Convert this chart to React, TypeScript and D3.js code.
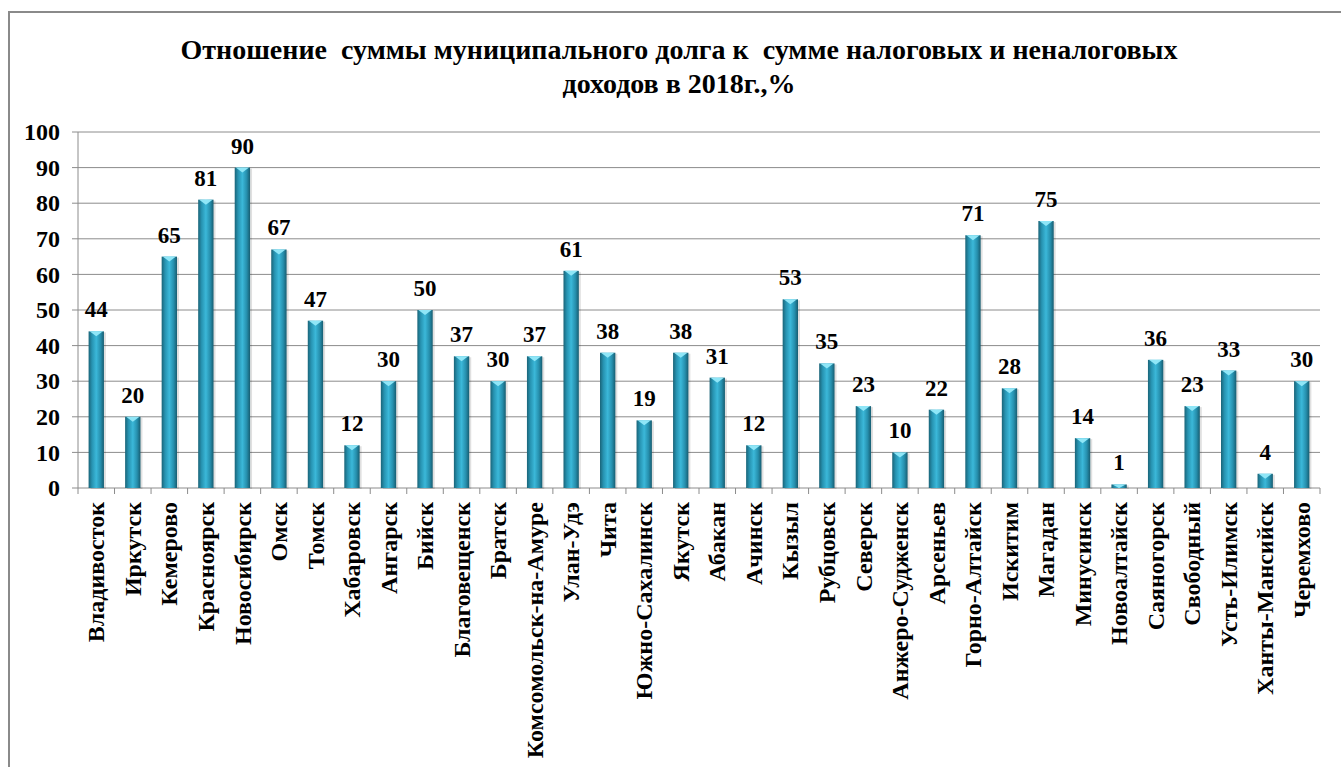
import * as d3 from "d3";

const cities = [
  "Владивосток", "Иркутск", "Кемерово", "Красноярск", "Новосибирск", "Омск", "Томск",
  "Хабаровск", "Ангарск", "Бийск", "Благовещенск", "Братск", "Комсомольск-на-Амуре",
  "Улан-Удэ", "Чита", "Южно-Сахалинск", "Якутск", "Абакан", "Ачинск", "Кызыл",
  "Рубцовск", "Северск", "Анжеро-Судженск", "Арсеньев", "Горно-Алтайск", "Искитим",
  "Магадан", "Минусинск", "Новоалтайск", "Саяногорск", "Свободный", "Усть-Илимск",
  "Ханты-Мансийск", "Черемхово",
];

const debtShare = [
  44, 20, 65, 81, 90, 67, 47, 12, 30, 50, 37, 30, 37, 61, 38, 19, 38, 31, 12, 53,
  35, 23, 10, 22, 71, 28, 75, 14, 1, 36, 23, 33, 4, 30,
];

const yTicks = [0, 10, 20, 30, 40, 50, 60, 70, 80, 90, 100];

const titleLines = [
  "Отношение  суммы муниципального долга к  сумме налоговых и неналоговых",
  "доходов в 2018г.,%",
];

const font = "'Liberation Serif', 'Times New Roman', serif";

export default function App() {
  const left = 78;
  const right = 1320;
  const top = 132;
  const bottom = 488;

  const x = d3.scaleBand<string>().domain(cities).range([left, right]);
  const y = d3.scaleLinear().domain([0, 100]).range([bottom, top]);
  const barW = x.bandwidth() * 0.42;
  const txt = { fontFamily: font, fontWeight: 700 as const };

  return (
    <svg
      width={1341}
      height={767}
      style={{ position: "absolute", left: 0, top: 0, background: "#fff" }}
    >
      <defs>
        <linearGradient id="cyl" x1="0" x2="1" y1="0" y2="0">
          <stop offset="0%" stopColor="#1a6478" />
          <stop offset="22%" stopColor="#2793b1" />
          <stop offset="50%" stopColor="#3bb8d9" />
          <stop offset="78%" stopColor="#268fad" />
          <stop offset="100%" stopColor="#175d71" />
        </linearGradient>
      </defs>

      <rect x={9} y={12} width={1345} height={765} fill="none" stroke="#8a8a8a" strokeWidth={2} />

      {titleLines.map((t, i) => (
        <text
          key={i}
          x={679}
          y={59 + i * 34}
          textAnchor="middle"
          fontSize={28}
          style={{ ...txt, whiteSpace: "pre" }}
        >
          {t}
        </text>
      ))}

      {yTicks.map((t) => (
        <g key={t}>
          {t > 0 && (
            <line x1={left} x2={right} y1={y(t)} y2={y(t)} stroke="#8c8c8c" strokeWidth={1} />
          )}
          <line x1={left - 6} x2={left} y1={y(t)} y2={y(t)} stroke="#8c8c8c" strokeWidth={1} />
          <text x={60} y={y(t)} dy="0.34em" textAnchor="end" fontSize={24} style={txt}>
            {t}
          </text>
        </g>
      ))}

      <line x1={left} x2={left} y1={top} y2={bottom} stroke="#8c8c8c" strokeWidth={1} />
      <line x1={left} x2={right} y1={bottom} y2={bottom} stroke="#8c8c8c" strokeWidth={1} />
      {cities.map((c) => (
        <line key={c} x1={x(c)!} x2={x(c)!} y1={bottom} y2={bottom + 6} stroke="#8c8c8c" />
      ))}
      <line x1={right} x2={right} y1={bottom} y2={bottom + 6} stroke="#8c8c8c" />

      {cities.map((c, i) => {
        const cx = x(c)! + x.bandwidth() / 2;
        const v = debtShare[i];
        const yt = y(v);
        const capH = Math.min(5, bottom - yt);
        return (
          <g key={c}>
            <rect x={cx - barW / 2 + 2} y={yt + 1} width={barW} height={bottom - yt} fill="#000" opacity={0.12} />
            <rect x={cx - barW / 2} y={yt} width={barW} height={bottom - yt} fill="url(#cyl)" />
            <path
              d={`M${cx - barW / 2 + 1},${yt} L${cx + barW / 2 - 1},${yt} L${cx},${yt + capH} Z`}
              fill="#8fe6f7"
            />
            <text x={cx} y={yt - 14} textAnchor="middle" fontSize={23} style={txt}>
              {v}
            </text>
            <text
              transform={`translate(${cx},502) rotate(-90)`}
              dy="0.34em"
              textAnchor="end"
              fontSize={24}
              style={txt}
            >
              {c}
            </text>
          </g>
        );
      })}
    </svg>
  );
}
